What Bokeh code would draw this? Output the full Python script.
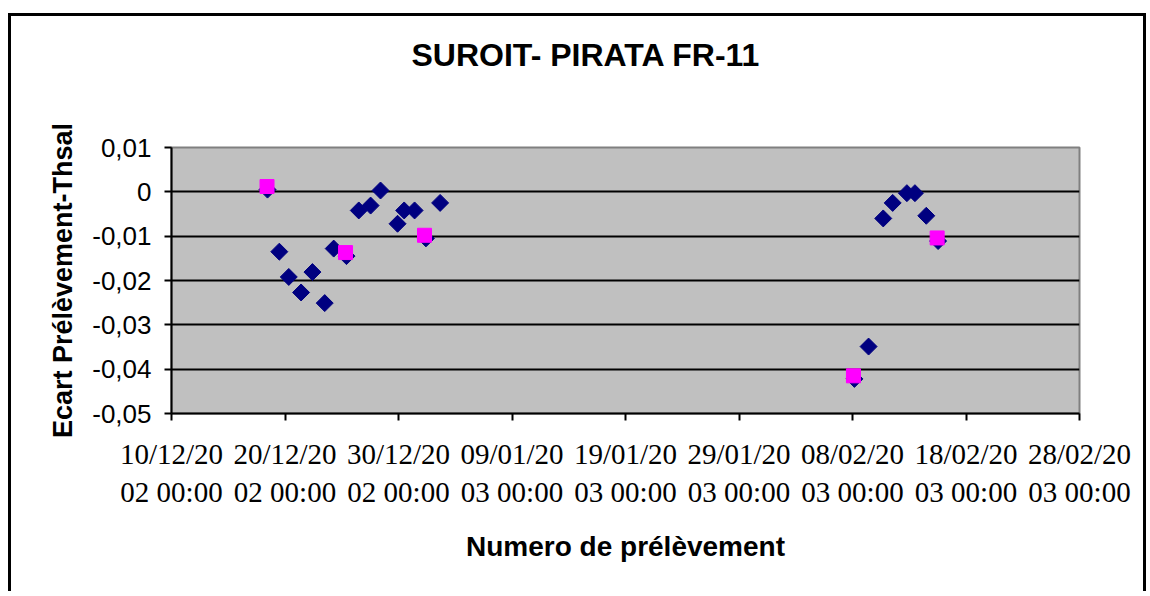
from datetime import datetime
from math import pi
from bokeh.plotting import figure
from bokeh.models import ColumnDataSource, Range1d, FixedTicker, DatetimeTickFormatter, Title
from bokeh.embed import file_html
from bokeh.resources import INLINE

# ---- data ----
blue_dates = ["2002-12-18 11:00", "2002-12-19 12:00", "2002-12-20 08:00", "2002-12-21 10:00",
              "2002-12-22 10:00", "2002-12-23 12:00", "2002-12-24 07:00", "2002-12-25 10:00",
              "2002-12-26 12:00", "2002-12-27 13:00", "2002-12-28 10:00", "2002-12-29 22:00",
              "2002-12-30 12:00", "2002-12-31 10:00", "2003-01-01 10:00", "2003-01-02 16:00",
              "2003-02-08 04:00", "2003-02-09 10:00", "2003-02-10 17:00", "2003-02-11 13:00",
              "2003-02-12 19:00", "2003-02-13 12:00", "2003-02-14 12:00", "2003-02-15 13:00"]
blue_values = [0.0005, -0.0135, -0.0192, -0.0227, -0.0181, -0.0251, -0.0128, -0.0145,
               -0.0042, -0.0031, 0.0003, -0.0072, -0.0042, -0.0042, -0.0105, -0.0025,
               -0.0422, -0.0349, -0.0060, -0.0025, -0.0003, -0.0003, -0.0054, -0.0111]

pink_dates = ["2002-12-18 10:00", "2002-12-25 08:00", "2003-01-01 07:00",
              "2003-02-08 02:00", "2003-02-15 11:00"]
pink_values = [0.0012, -0.0137, -0.0098, -0.0415, -0.0104]

x_ticks = ["2002-12-10", "2002-12-20", "2002-12-30", "2003-01-09", "2003-01-19",
           "2003-01-29", "2003-02-08", "2003-02-18", "2003-02-28"]
y_ticks = [-0.05, -0.04, -0.03, -0.02, -0.01, 0.0, 0.01]
y_tick_labels = ["-0,05", "-0,04", "-0,03", "-0,02", "-0,01", "0", "0,01"]

title_text = "SUROIT- PIRATA FR-11"
x_label = "Numero de prélèvement"
y_label = "Ecart Prélèvement-Thsal"

# ---- build ----
def to_dt(s):
    fmt = "%Y-%m-%d %H:%M" if " " in s else "%Y-%m-%d"
    return datetime.strptime(s, fmt)

def to_ms(d):
    return (d - datetime(1970, 1, 1)).total_seconds() * 1000.0

blue_src = ColumnDataSource(dict(x=[to_dt(s) for s in blue_dates], y=blue_values))
pink_src = ColumnDataSource(dict(x=[to_dt(s) for s in pink_dates], y=pink_values))
xt = [to_ms(to_dt(s)) for s in x_ticks]

W, H = 1138, 578
ML, MR, MT, MB = 160, 70, 131, 181

x0, x1 = to_dt(x_ticks[0]), to_dt(x_ticks[-1])
y0, y1 = y_ticks[0], y_ticks[-1]

p = figure(width=W, height=H, x_axis_type="datetime",
           x_range=Range1d(x0, x1), y_range=Range1d(y0, y1),
           output_backend="svg", toolbar_location=None,
           min_border_left=ML, min_border_right=MR, min_border_top=MT, min_border_bottom=MB)

p.styles = {"border-top": "3px solid black", "border-left": "3px solid black",
            "border-right": "3px solid black", "margin-top": "13px", "margin-left": "8px"}

p.background_fill_color = "#C0C0C0"
p.border_fill_color = "white"
p.outline_line_color = "#808080"
p.outline_line_width = 2

# title: spacer title next to the frame, main title above it
p.title.text = ""
spacer = Title(text=" ", text_font_size="10px", standoff=61, vertical_align="middle")
main_title = Title(text=title_text, text_font="Liberation Sans", text_font_size="32px",
                   text_font_style="bold", text_color="black", align="left", offset=240,
                   standoff=0, vertical_align="middle")
p.add_layout(spacer, "above")
p.add_layout(main_title, "above")

# x axis
p.xaxis.ticker = FixedTicker(ticks=xt)
fmt = "%d/%m/20\n%y %H:%M"
p.xaxis.formatter = DatetimeTickFormatter(microseconds=fmt, milliseconds=fmt, seconds=fmt,
                                          minsec=fmt, minutes=fmt, hourmin=fmt, hours=fmt,
                                          days=fmt, months=fmt, years=fmt)
p.xaxis.major_label_text_font = "Liberation Serif"
p.xaxis.major_label_text_font_size = "29px"
p.xaxis.major_label_standoff = 17
p.xaxis.axis_label = x_label
p.xaxis.axis_label_text_font = "Liberation Sans"
p.xaxis.axis_label_text_font_size = "28px"
p.xaxis.axis_label_text_font_style = "bold"
p.xaxis.axis_label_standoff = 20

# y axis
p.yaxis.ticker = FixedTicker(ticks=y_ticks)
p.yaxis.major_label_overrides = {v: t for v, t in zip(y_ticks, y_tick_labels)}
p.yaxis.major_label_text_font = "Liberation Sans"
p.yaxis.major_label_text_font_size = "26px"
p.yaxis.major_label_standoff = 13
p.yaxis.axis_label = y_label
p.yaxis.axis_label_text_font = "Liberation Sans"
p.yaxis.axis_label_text_font_size = "27px"
p.yaxis.axis_label_text_font_style = "bold"
p.yaxis.axis_label_standoff = 11

for ax in (p.xaxis, p.yaxis):
    ax.axis_line_color = "black"
    ax.axis_line_width = 2
    ax.major_tick_line_color = "black"
    ax.major_tick_line_width = 2
    ax.major_tick_out = 7
    ax.major_tick_in = 0
    ax.minor_tick_line_color = None
    ax.major_label_text_color = "black"
    ax.axis_label_text_color = "black"

p.xgrid.visible = False
p.ygrid.ticker = FixedTicker(ticks=y_ticks)
p.ygrid.grid_line_color = "black"
p.ygrid.grid_line_width = 2
p.ygrid.grid_line_alpha = 1.0

p.scatter("x", "y", source=blue_src, marker="square", angle=pi / 4, size=12,
          fill_color="#000080", line_color="#000080")
p.scatter("x", "y", source=pink_src, marker="square", size=14,
          fill_color="#FF00FF", line_color="#FF00FF")

open("out.html", "w").write(file_html(p, INLINE))
